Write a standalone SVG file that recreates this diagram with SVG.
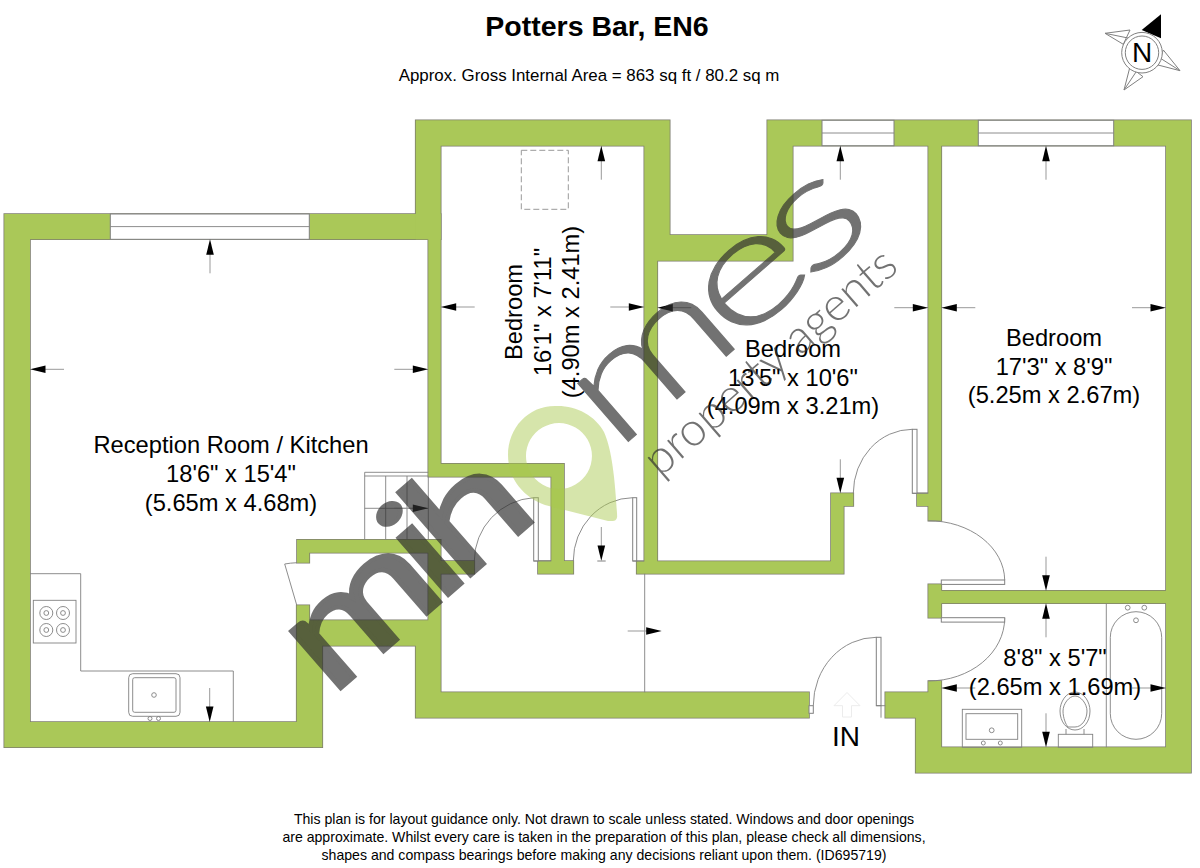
<svg xmlns="http://www.w3.org/2000/svg" xmlns:xlink="http://www.w3.org/1999/xlink" width="1200" height="868" viewBox="0 0 1200 868">
<style>
text{font-family:"Liberation Sans",Arial,sans-serif;fill:#000}
.rm{font-size:23.7px;text-anchor:middle}
.ft{font-size:14.1px;text-anchor:middle}
.l{fill:none;stroke:#808080;stroke-width:.9}
.w{fill:#fff;stroke:#808080;stroke-width:1}
.dk{font-family:Lato,"Open Sans",sans-serif;fill:#303030;stroke:#303030}
</style>
<defs>
<g id="walls">
<path d="M4.3 214H440.7V239.3H30V722H296.7V605.3H309.3V620.3H428.3V552.7H309.3V562.7H297V539.7H440.7V561H474.3V573.7H440.7V692.3H809V717.7H415.7V645.7H322.3V747.3H4.3Z"/>
<path d="M415.7 120.3H669.7V235H767.3V120.3H1191V772.7H915.7V717.7H885.3V692.3H928.3V681H941.3V747.3H1166V603.3H941.3V617.7H928.3V584.3H941.3V590.7H1166V145.7H941.3V520.7H928.3V506H917V493.3H928.3V145.7H792.7V260.7H657.3V561.3H831V493.3H853.3V506H843.7V573.7H636.7V561.3H644.3V145.7H440.7V463.7H564V561H573.3V573.7H538V561H551.3V476.7H428.3V239.3H415.7Z"/>
</g>
<g id="arr"><path d="M-34 0H-14" fill="none" stroke="#999" stroke-width="1"/><path d="M-15.5 -3.8L0 0L-15.5 3.8Z" fill="#000"/></g>
</defs>
<rect width="1200" height="868" fill="#fff"/>

<g id="title">
<text x="597" y="36" font-size="28.5" font-weight="700" text-anchor="middle">Potters Bar, EN6</text>
<text x="589" y="81" font-size="16.9" text-anchor="middle">Approx. Gross Internal Area = 863 sq ft / 80.2 sq m</text>
</g>

<g id="compass">
<path d="M1141.7 30L1161 14.3V38.3Z" fill="#000"/>
<path class="w" d="M1105 33.3L1130 30L1123.3 44.3Z M1105 33.3L1128 38"/>
<path class="w" d="M1180 70.7L1163.3 50L1158 65Z M1180 70.7L1160 58"/>
<path class="w" d="M1124 90L1130 66.7L1143 76.7Z M1124 90L1136 72"/>
<circle class="w" cx="1142" cy="52.7" r="20.3"/>
<circle class="w" cx="1142" cy="52.7" r="16.7"/>
<text x="1142" y="62" font-size="28" text-anchor="middle">N</text>
</g>

<g id="plan-walls">
<use href="#walls" fill="#aac858" stroke="#7d7d6e" stroke-width="1.6"/>
<use href="#walls" fill="#aac858"/>
</g>

<g id="windows">
<rect class="w" x="110.3" y="214" width="199" height="25.3"/><path class="l" d="M110.3 226.6H309.3"/>
<rect class="w" x="822" y="120.3" width="72" height="25.4"/><path class="l" d="M822 133H894"/>
<rect class="w" x="978.3" y="120.3" width="135.4" height="25.4"/><path class="l" d="M978.3 133H1113.7"/>
</g>

<g id="doors">
<path class="l" d="M474.3 561A63.5 63.5 0 0 1 533.7 497.7"/><rect class="w" x="533.7" y="497.7" width="4.6" height="63.3"/><path class="l" d="M533.7 561H551.3"/>
<path class="l" d="M573.3 561A60 63.3 0 0 1 632.7 497.7"/><rect class="w" x="632.7" y="497.7" width="4" height="63.3"/><path class="l" d="M632.7 561H644.3"/>
<path class="l" d="M853.3 493.3A59 64 0 0 1 912.3 429.3"/><rect class="w" x="912.3" y="429.3" width="4.7" height="64"/><path class="l" d="M912.3 493.3H928.3"/>
<path class="l" d="M928.3 520.7A76.4 60 0 0 1 1004.7 580"/><rect class="w" x="941.3" y="580" width="63.4" height="4.4"/>
<path class="l" d="M1004.7 618A76.4 63 0 0 1 928.3 681"/><rect class="w" x="941.3" y="617.7" width="63.4" height="4.4"/>
<path class="l" d="M813.3 705.7A63 68.4 0 0 1 876.3 637.3"/><rect class="w" x="876.3" y="637.3" width="4.7" height="68.4"/><path class="l" d="M876.3 705.7H885.3M881 705.7V717.7"/><rect class="w" x="809" y="705.7" width="4.3" height="7.6"/>
<path class="l" d="M297 562.7Q290 563 284.7 564L296.7 605"/>
</g>

<g id="fixtures">
<path class="l" d="M644.7 573.7V692.3"/>
<rect x="521.3" y="150.3" width="47" height="59" fill="none" stroke="#999" stroke-width="1" stroke-dasharray="6 3"/>
<path class="l" d="M364.7 539.7V472.3H428.3M364.7 476H428.3M385.7 476V539.7M407 476V539.7M364.7 508.3H428.3M428.3 476.7V539.7"/>
<path class="l" d="M30 573.7H80.7V671H233.3V722"/>
<rect class="l" x="33.3" y="600.3" width="42.7" height="42.7"/>
<g class="l"><circle cx="46.3" cy="613" r="6.5"/><circle cx="46.3" cy="613" r="2.4"/><circle cx="63" cy="613" r="6.5"/><circle cx="63" cy="613" r="2.4"/><circle cx="46.3" cy="630" r="6.5"/><circle cx="46.3" cy="630" r="2.4"/><circle cx="63" cy="630" r="6.5"/><circle cx="63" cy="630" r="2.4"/></g>
<rect class="l" x="128.7" y="673.7" width="51.3" height="42.6" rx="4"/><rect class="l" x="132.7" y="677.7" width="43.3" height="34.6" rx="2"/>
<g class="l"><circle cx="154" cy="695" r="2.3"/><circle cx="150" cy="718.5" r="2"/><circle cx="158.5" cy="718.5" r="2"/></g>
<path class="l" d="M1106.3 603.3V747.3"/>
<rect class="l" x="1110.3" y="611.7" width="51.4" height="127.6" rx="25.7"/>
<g class="l"><circle cx="1127.7" cy="607.7" r="2.4"/><circle cx="1144.3" cy="607.7" r="2.4"/><circle cx="1136" cy="620.3" r="2.4"/></g>
<rect class="l" x="962.3" y="709.3" width="59.4" height="38"/><rect class="l" x="966" y="713.7" width="51.7" height="25.6"/>
<g class="l"><circle cx="991.7" cy="730.3" r="2.4"/><circle cx="983.3" cy="743" r="2"/><circle cx="1000.3" cy="743" r="2"/></g>
<rect class="l" x="1058.3" y="734.3" width="34.4" height="13"/>
<path class="l" d="M1066 734.3V729M1084 734.3V729M1075 692C1084 692 1090 702 1090 711C1090 722 1083 730 1075 730C1067 730 1060 722 1060 711C1060 702 1066 692 1075 692Z"/>
<path class="l" d="M1075 696C1081 696 1087 704 1087 711C1087 719 1082 727 1075 727H1068C1066 725 1063 718 1063 711C1063 704 1069 696 1075 696Z"/>
</g>

<g id="arrows">
<use href="#arr" transform="translate(210 239.3) rotate(-90)"/>
<use href="#arr" transform="translate(30 369.3) rotate(180)"/>
<use href="#arr" transform="translate(428.3 369.3)"/>
<use href="#arr" transform="translate(209.7 722) rotate(90)"/>
<use href="#arr" transform="translate(428.3 508.3)"/>
<use href="#arr" transform="translate(601.3 145.7) rotate(-90)"/>
<use href="#arr" transform="translate(440.7 307) rotate(180)"/>
<use href="#arr" transform="translate(644.3 307)"/>
<use href="#arr" transform="translate(601.3 561) rotate(90)"/>
<path d="M597.3 561H605.7" stroke="#808080" stroke-width="1"/>
<use href="#arr" transform="translate(661.7 631)"/>
<use href="#arr" transform="translate(840.3 145.7) rotate(-90)"/>
<use href="#arr" transform="translate(657.3 307.7) rotate(180)"/>
<use href="#arr" transform="translate(928.3 307.7)"/>
<use href="#arr" transform="translate(840.3 493.3) rotate(90)"/>
<use href="#arr" transform="translate(1046 145.7) rotate(-90)"/>
<use href="#arr" transform="translate(941.3 307.7) rotate(180)"/>
<use href="#arr" transform="translate(1166 307.7)"/>
<use href="#arr" transform="translate(1046 590.7) rotate(90)"/>
<use href="#arr" transform="translate(1046 603.3) rotate(-90)"/>
<use href="#arr" transform="translate(941.3 688) rotate(180)"/>
<use href="#arr" transform="translate(1166 688)"/>
<use href="#arr" transform="translate(1046 747.3) rotate(90)"/>
<path d="M842.5 717V705.7H834L847 692.5L860 705.7H851.5V717Z" fill="none" stroke="#ececec" stroke-width="1"/>
</g>

<g id="labels">
<text class="rm" x="231" y="453">Reception Room / Kitchen</text>
<text class="rm" x="231" y="482">18'6" x 15'4"</text>
<text class="rm" x="231" y="511">(5.65m x 4.68m)</text>
<text class="rm" transform="translate(522 312) rotate(-90)">Bedroom</text>
<text class="rm" transform="translate(551 312) rotate(-90)">16'1" x 7'11"</text>
<text class="rm" transform="translate(579 312) rotate(-90)">(4.90m x 2.41m)</text>
<text class="rm" x="793" y="357">Bedroom</text>
<text class="rm" x="793" y="386">13'5" x 10'6"</text>
<text class="rm" x="793" y="414">(4.09m x 3.21m)</text>
<text class="rm" x="1054" y="346">Bedroom</text>
<text class="rm" x="1054" y="375">17'3" x 8'9"</text>
<text class="rm" x="1054" y="403">(5.25m x 2.67m)</text>
<text class="rm" x="1055" y="666">8'8" x 5'7"</text>
<text class="rm" x="1055" y="695">(2.65m x 1.69m)</text>
<text x="846" y="746" font-size="28" text-anchor="middle">IN</text>
</g>

<g id="footer">
<text class="ft" x="604" y="824">This plan is for layout guidance only. Not drawn to scale unless stated. Windows and door openings</text>
<text class="ft" x="604" y="842">are approximate. Whilst every care is taken in the preparation of this plan, please check all dimensions,</text>
<text class="ft" x="604" y="860">shapes and compass bearings before making any decisions reliant upon them. (ID695719)</text>
</g>

<g id="watermark" opacity=".68">
<path fill="#a9c84f" fill-opacity=".7" fill-rule="evenodd" d="M613 521Q618 521 617 513C615 480 612 450 604 432C595 415 575 405 555 406C528 406 508 428 508 455C508 480 525 498 545 505L608 521ZM559 423A33 33 0 1 1 558.9 423Z"/>
<text class="dk" transform="translate(331 697) rotate(-41) scale(1.27 1)" font-size="150" stroke-width="4" letter-spacing="-12">mih</text>
<text class="dk" transform="translate(615 453) rotate(-41) scale(1.4 1)" font-size="155" font-weight="300" stroke-width="1" letter-spacing="-11">mes</text>
<text class="dk" transform="translate(660 478) rotate(-41)" font-size="47" font-weight="300" stroke-width="0">property agents</text>
</g>
</svg>
